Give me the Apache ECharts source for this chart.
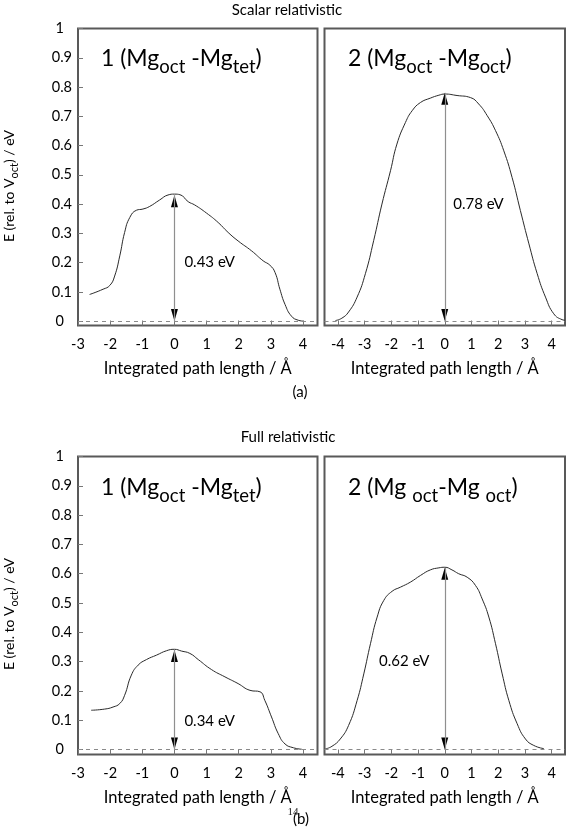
<!DOCTYPE html>
<html>
<head>
<meta charset="utf-8">
<script src="https://cdn.jsdelivr.net/npm/echarts@6/dist/echarts.min.js"></script>
<style>
html,body{margin:0;padding:0;background:#fff;}
#chart{width:567px;height:828px;}
</style>
</head>
<body>
<div id="chart"></div>
<script>
// ---- data ----
const xTicksLeft = [-3, -2, -1, 0, 1, 2, 3, 4];
const xTicksRight = [-4, -3, -2, -1, 0, 1, 2, 3, 4];
const yTicks = [0, 0.1, 0.2, 0.3, 0.4, 0.5, 0.6, 0.7, 0.8, 0.9, 1];

const scalar1X = [-2.64,-2.22,-2.01,-1.86,-1.70,-1.55,-1.39,-1.18,-0.98,-0.77,-0.46,-0.20,0,0.17,0.43,0.63,1.0,1.36,1.67,1.98,2.40,2.76,2.97,3.13,3.28,3.44,3.64,3.85,4.01];
const scalar1E = [0.091,0.109,0.122,0.154,0.223,0.303,0.354,0.379,0.383,0.392,0.414,0.431,0.434,0.432,0.408,0.397,0.369,0.337,0.303,0.274,0.240,0.206,0.191,0.166,0.109,0.057,0.017,0.003,0.0];

const scalar2X = [-4.09,-3.85,-3.60,-3.28,-2.97,-2.66,-2.35,-2.03,-1.79,-1.47,-1.22,-0.91,-0.54,-0.22,0,0.46,0.96,1.27,1.59,1.90,2.21,2.52,2.83,3.15,3.46,3.77,4.08,4.39,4.5];
const scalar2E = [0.002,0.010,0.031,0.082,0.162,0.275,0.400,0.514,0.605,0.679,0.719,0.747,0.762,0.772,0.776,0.771,0.764,0.742,0.702,0.651,0.582,0.491,0.378,0.264,0.162,0.082,0.025,0.005,0.003];

const full1X = [-2.59,-2.17,-1.91,-1.70,-1.55,-1.34,-1.13,-0.87,-0.56,-0.25,0,0.22,0.48,0.74,1.15,1.57,1.98,2.35,2.66,2.81,3.02,3.23,3.44,3.70,3.96];
const full1E = [0.134,0.138,0.145,0.157,0.185,0.254,0.288,0.307,0.322,0.337,0.342,0.336,0.328,0.307,0.273,0.248,0.225,0.202,0.197,0.168,0.111,0.054,0.019,0.006,0.001];

const full2X = [-4.47,-4.22,-3.91,-3.60,-3.28,-3.03,-2.78,-2.53,-2.28,-1.97,-1.66,-1.29,-0.91,-0.54,-0.22,0,0.27,0.52,0.84,1.15,1.40,1.65,1.90,2.15,2.40,2.71,3.02,3.33,3.71];
const full2E = [0.002,0.011,0.036,0.082,0.167,0.258,0.361,0.452,0.509,0.540,0.554,0.571,0.594,0.613,0.620,0.622,0.613,0.600,0.588,0.560,0.514,0.452,0.361,0.258,0.167,0.088,0.036,0.014,0.003];

const barriers = [0.43, 0.78, 0.34, 0.62];
const barrierLabels = ['0.43 eV', '0.78 eV', '0.34 eV', '0.62 eV'];
const sectionTitles = ['Scalar relativistic', 'Full relativistic'];
const xAxisName = 'Integrated path length / Å';

// ---- build ----
const FONT = 'Lato, "Noto Sans", sans-serif';
const TXT = '#000';
const chart = echarts.init(document.getElementById('chart'), null, {renderer: 'canvas'});

const panels = [
  {x: scalar1X, e: scalar1E, grid: {left: 78, top: 28.5, width: 239.5, height: 297}, xmin: -3, xmax: 4.45, ymin: -0.015, ticks: xTicksLeft, left: true, ann: [0.31, 0.2]},
  {x: scalar2X, e: scalar2E, grid: {left: 324.5, top: 28.5, width: 240.5, height: 297}, xmin: -4.5, xmax: 4.5, ymin: -0.015, ticks: xTicksRight, left: false, ann: [0.32, 0.40]},
  {x: full1X, e: full1E, grid: {left: 78, top: 456.5, width: 239.5, height: 298}, xmin: -3, xmax: 4.45, ymin: -0.017, ticks: xTicksLeft, left: true, ann: [0.31, 0.098]},
  {x: full2X, e: full2E, grid: {left: 324.5, top: 456.5, width: 240.5, height: 298}, xmin: -4.5, xmax: 4.5, ymin: -0.017, ticks: xTicksRight, left: false, ann: [-2.46, 0.30]}
];

const grids = [], xAxes = [], yAxes = [], series = [];
panels.forEach((p, i) => {
  grids.push(Object.assign({show: true, borderColor: '#595959', borderWidth: 2, backgroundColor: 'transparent'}, p.grid));
  xAxes.push({
    type: 'value', gridIndex: i, min: p.xmin, max: p.xmax,
    axisLine: {show: false, onZero: false},
    splitLine: {show: false},
    axisTick: {show: true, inside: true, length: 5, customValues: p.ticks, lineStyle: {color: '#777', width: 1}},
    axisLabel: {customValues: p.ticks, fontSize: 14.5, color: TXT, fontFamily: FONT, margin: 11},
    name: xAxisName, nameLocation: 'middle', nameGap: 35,
    nameTextStyle: {fontSize: 16.5, color: TXT, fontFamily: FONT}
  });
  yAxes.push({
    type: 'value', gridIndex: i, min: p.ymin, max: 1,
    axisLine: {show: false, onZero: false},
    splitLine: {show: false},
    axisTick: {show: p.left, inside: true, length: 5, customValues: yTicks, lineStyle: {color: '#777', width: 1}},
    axisLabel: {
      show: p.left, customValues: yTicks, fontSize: 14.5, color: TXT, fontFamily: FONT, margin: 6,
      formatter: v => {
        const s = String(Math.round(v * 10) / 10);
        return (s === '0' || s === '1') ? '{p|' + s + '}' : s;
      },
      rich: {p: {fontSize: 14.5, fontFamily: FONT, color: TXT, padding: [0, 8, 0, 0]}}
    }
  });
  const pts = p.x.map((x, k) => [x, p.e[k]]);
  series.push({
    type: 'line', xAxisIndex: i, yAxisIndex: i, data: pts,
    smooth: 0.5, showSymbol: false, silent: true,
    lineStyle: {color: '#2a2a2a', width: 1},
    markLine: {
      silent: true, symbol: 'none', animation: false,
      label: {show: false},
      data: [
        {yAxis: 0, lineStyle: {type: [4, 4], color: '#8a8a8a', width: 1}},
        [{coord: [0, 0], lineStyle: {type: 'solid', color: '#8f8f8f', width: 1.2}}, {coord: [0, barriers[i]]}]
      ]
    }
  });
  // arrowheads
  series.push({
    type: 'scatter', xAxisIndex: i, yAxisIndex: i, silent: true,
    symbol: 'triangle', symbolSize: [7, 12],
    itemStyle: {color: '#000', opacity: 1},
    data: [
      {value: [0, barriers[i]], symbolOffset: [0, '50%']},
      {value: [0, 0], symbolRotate: 180, symbolOffset: [0, '-50%']}
    ]
  });
  // barrier label
  series.push({
    type: 'scatter', xAxisIndex: i, yAxisIndex: i, silent: true,
    symbolSize: 0,
    itemStyle: {opacity: 1},
    data: [p.ann],
    label: {show: true, position: 'right', distance: 0, formatter: barrierLabels[i], fontSize: 15, color: TXT, fontFamily: FONT}
  });
});

const labelRich = {
  m: {fontSize: 23, fontFamily: FONT, color: TXT, lineHeight: 36, verticalAlign: 'middle'},
  s: {fontSize: 18.5, fontFamily: FONT, color: TXT, lineHeight: 18, verticalAlign: 'bottom'}
};
const yNameRich = {
  m: {fontSize: 14, fontFamily: FONT, color: TXT, lineHeight: 22, verticalAlign: 'middle'},
  s: {fontSize: 11, fontFamily: FONT, color: TXT, lineHeight: 11, verticalAlign: 'bottom'}
};

const graphic = [
  {type: 'text', x: 287, y: 10, style: {text: sectionTitles[0], fontSize: 15, fontFamily: FONT, fill: TXT, align: 'center', verticalAlign: 'middle'}},
  {type: 'text', x: 288, y: 437, style: {text: sectionTitles[1], fontSize: 15, fontFamily: FONT, fill: TXT, align: 'center', verticalAlign: 'middle'}},
  {type: 'text', x: 300, y: 392, style: {text: '(a)', fontSize: 15, fontFamily: FONT, fill: TXT, align: 'center', verticalAlign: 'middle'}},
  {type: 'text', x: 301, y: 819, style: {text: '(b)', fontSize: 15, fontFamily: FONT, fill: TXT, align: 'center', verticalAlign: 'middle'}},
  {type: 'text', x: 293, y: 812, style: {text: '14', fontSize: 11, fontFamily: '"Liberation Serif", serif', fill: '#222', align: 'center', verticalAlign: 'middle'}},
  {type: 'text', x: 101, y: 59, style: {text: '{m|1 (Mg}{s|oct}{m| -Mg}{s|tet}{m|)}', rich: labelRich, align: 'left', verticalAlign: 'middle'}},
  {type: 'text', x: 348, y: 59, style: {text: '{m|2 (Mg}{s|oct}{m| -Mg}{s|oct}{m|)}', rich: labelRich, align: 'left', verticalAlign: 'middle'}},
  {type: 'text', x: 101, y: 488, style: {text: '{m|1 (Mg}{s|oct}{m| -Mg}{s|tet}{m|)}', rich: labelRich, align: 'left', verticalAlign: 'middle'}},
  {type: 'text', x: 348, y: 488, style: {text: '{m|2 (Mg }{s|oct}{m|-Mg }{s|oct}{m|)}', rich: labelRich, align: 'left', verticalAlign: 'middle'}},
  {type: 'text', x: 9, y: 186, rotation: Math.PI / 2, style: {text: '{m|E (rel. to V}{s|oct}{m|) / eV}', rich: yNameRich, align: 'center', verticalAlign: 'middle'}},
  {type: 'text', x: 9, y: 614, rotation: Math.PI / 2, style: {text: '{m|E (rel. to V}{s|oct}{m|) / eV}', rich: yNameRich, align: 'center', verticalAlign: 'middle'}}
];

chart.setOption({
  animation: false,
  backgroundColor: '#fff',
  textStyle: {fontFamily: FONT},
  grid: grids, xAxis: xAxes, yAxis: yAxes, series: series, graphic: graphic
});
</script>
</body>
</html>
